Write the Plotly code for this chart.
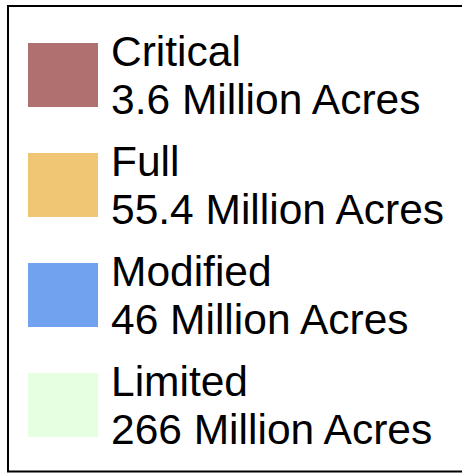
import plotly.graph_objects as go

categories = ["Critical", "Full", "Modified", "Limited"]
acres_labels = ["3.6 Million Acres", "55.4 Million Acres", "46 Million Acres", "266 Million Acres"]
colors = ["#B07070", "#F0C674", "#70A2F0", "#E6FFE0"]

W, H = 462, 473
fig = go.Figure()
fig.add_trace(go.Bar(
    y=categories, x=[70] * len(categories), base=[28] * len(categories),
    orientation="h", width=64 / 110, marker=dict(color=colors, line=dict(width=0)),
    hoverinfo="skip", showlegend=False,
))

font = dict(family="Liberation Sans, Arial, sans-serif", size=42.5, color="#000000")
for cat, lab in zip(categories, acres_labels):
    fig.add_annotation(x=109, y=cat, text=cat, showarrow=False, xanchor="left",
                       yanchor="middle", yshift=24, font=font)
    fig.add_annotation(x=109, y=cat, text=lab, showarrow=False, xanchor="left",
                       yanchor="middle", yshift=-24, font=font)

x0 = 8 / W
yt = 1 - 6 / H
yb = 1 - 471.5 / H
fig.add_shape(type="path", xref="paper", yref="paper",
              path=f"M 1.02,{yb} L {x0},{yb} L {x0},{yt} L 1.02,{yt}",
              line=dict(color="#000000", width=2), fillcolor="rgba(0,0,0,0)")

fig.update_layout(
    width=W, height=H, margin=dict(l=0, r=0, t=0, b=0),
    paper_bgcolor="white", plot_bgcolor="white",
    xaxis=dict(range=[0, W], visible=False, fixedrange=True),
    yaxis=dict(type="category", categoryorder="array", categoryarray=categories,
               range=[(H - 75) / 110, -75 / 110], visible=False, fixedrange=True),
    bargap=0,
)
fig.write_html("out.html", config={"displayModeBar": False},
               post_script="document.body.style.margin='0px';")
